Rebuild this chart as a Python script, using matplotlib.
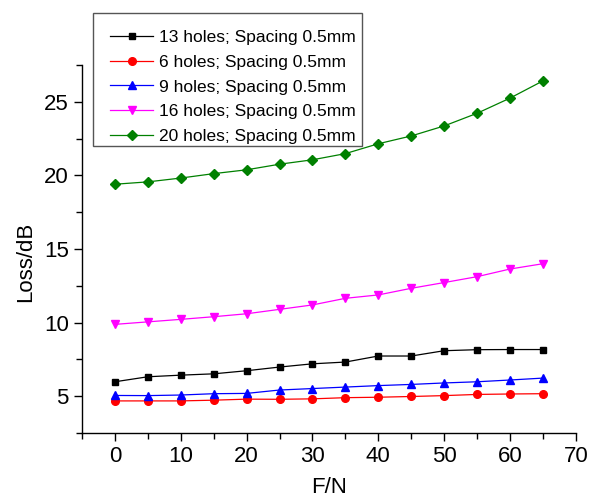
import numpy as np
import matplotlib.pyplot as plt
from matplotlib.ticker import MultipleLocator
from matplotlib.patches import Rectangle

plt.rcParams['font.family'] = ['Liberation Sans', 'DejaVu Sans']

force = [0, 5, 10, 15, 20, 25, 30, 35, 40, 45, 50, 55, 60, 65]

loss_13 = [5.98, 6.32, 6.43, 6.52, 6.73, 6.98, 7.2, 7.32, 7.73, 7.73, 8.09, 8.16, 8.17, 8.17]
loss_6 = [4.68, 4.68, 4.68, 4.73, 4.8, 4.79, 4.82, 4.9, 4.93, 4.98, 5.04, 5.12, 5.15, 5.17]
loss_9 = [5.05, 5.04, 5.08, 5.17, 5.19, 5.42, 5.52, 5.62, 5.72, 5.8, 5.9, 5.98, 6.1, 6.23]
loss_16 = [9.88, 10.05, 10.22, 10.4, 10.6, 10.9, 11.2, 11.65, 11.88, 12.33, 12.72, 13.12, 13.64, 14.0]
loss_20 = [19.4, 19.56, 19.82, 20.12, 20.38, 20.76, 21.06, 21.48, 22.15, 22.68, 23.36, 24.22, 25.25, 26.42]

labels = ['13 holes; Spacing 0.5mm', '6 holes; Spacing 0.5mm', '9 holes; Spacing 0.5mm',
          '16 holes; Spacing 0.5mm', '20 holes; Spacing 0.5mm']

fig = plt.figure(figsize=(5.9, 5.0), dpi=100)
ax = fig.add_axes([0.139, 0.134, 0.837, 0.736])

series = [
    (loss_13, 'black', 's', 5),
    (loss_6, 'red', 'o', 5.5),
    (loss_9, 'blue', '^', 6),
    (loss_16, 'magenta', 'v', 6),
    (loss_20, 'green', 'D', 5.5),
]
handles = []
for (vals, c, m, ms), lab in zip(series, labels):
    h, = ax.plot(force, vals, color=c, marker=m, markersize=ms, linewidth=0.9, label=lab)
    handles.append(h)

ax.set_xlim(-5, 70)
ax.set_ylim(2.5, 27.5)
ax.xaxis.set_major_locator(MultipleLocator(10))
ax.xaxis.set_minor_locator(MultipleLocator(5))
ax.yaxis.set_major_locator(MultipleLocator(5))
ax.yaxis.set_minor_locator(MultipleLocator(2.5))
ax.spines['top'].set_visible(False)
ax.spines['right'].set_visible(False)
for s in ['left', 'bottom']:
    ax.spines[s].set_linewidth(1.0)
ax.tick_params(which='major', direction='out', length=6, width=1, labelsize=16)
ax.tick_params(which='minor', direction='out', length=4, width=1)
ax.set_xlabel('F/N', fontsize=16)
ax.set_ylabel('Loss/dB', fontsize=16)
ax.xaxis.set_label_coords(0.5, -0.12)
ax.yaxis.set_label_coords(-0.092, 0.465)

leg = fig.legend(handles=handles, loc='upper left', bbox_to_anchor=(0.1864, 0.94),
                 fontsize=12.5, frameon=False, handlelength=2.5,
                 borderpad=0, borderaxespad=0, labelspacing=0.55, handletextpad=0.3)

# Origin-style legend frame with extra room at the top
fig.add_artist(Rectangle((93 / 590, 1 - 146 / 500), 269 / 590, 133 / 500,
                         transform=fig.transFigure, fill=False,
                         edgecolor='#555555', linewidth=1.0))

plt.savefig('out.png', dpi=100)
